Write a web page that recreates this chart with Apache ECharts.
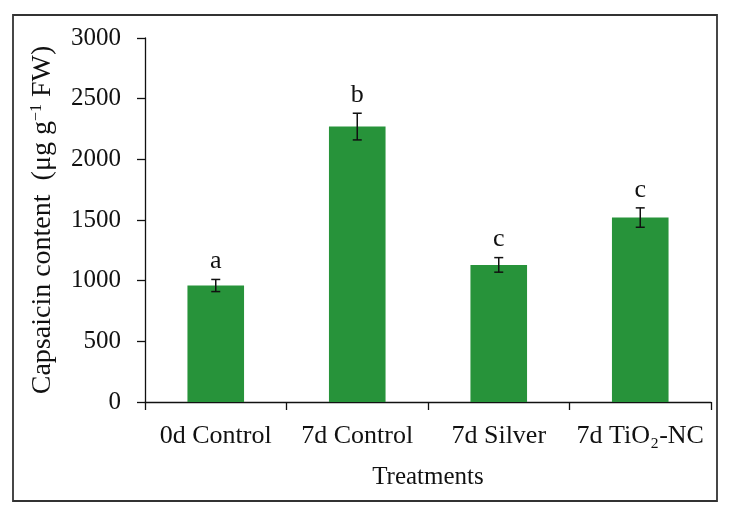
<!DOCTYPE html>
<html>
<head>
<meta charset="utf-8">
<script src="https://cdn.jsdelivr.net/npm/echarts@6/dist/echarts.min.js"></script>
<style>html,body{margin:0;padding:0;background:#fff}#c{width:734px;height:515px}</style>
</head>
<body>
<div id="c"></div>
<script>
var categories = ['0d Control', '7d Control', '7d Silver', '7d TiO₂-NC'];
var values = [960, 2270, 1130, 1520];
var errors = [50, 110, 60, 80];
var letters = ['a', 'b', 'c', 'c'];
var yTicks = [0, 500, 1000, 1500, 2000, 2500, 3000];

var FONT = '"Liberation Serif", "Times New Roman", serif';
var chart = echarts.init(document.getElementById('c'), null, {renderer: 'canvas'});

var errData = values.map(function (v, i) { return [i, v, errors[i]]; });

chart.setOption({
  animation: false,
  backgroundColor: '#fff',
  graphic: [{
    type: 'rect',
    shape: {x: 13, y: 15, width: 704, height: 486},
    style: {fill: 'none', stroke: '#333', lineWidth: 1.8},
    z: 100
  }],
  grid: {left: 145, right: 23, top: 38, bottom: 113},
  xAxis: {
    type: 'category',
    data: categories,
    name: 'Treatments',
    nameLocation: 'middle',
    nameGap: 63,
    nameTextStyle: {fontFamily: FONT, fontSize: 25, color: '#111'},
    axisLine: {lineStyle: {color: '#111', width: 1.3}},
    axisTick: {show: true, length: 8, lineStyle: {color: '#111', width: 1.3}},
    axisLabel: {fontFamily: FONT, fontSize: 26, color: '#111', margin: 21, interval: 0}
  },
  yAxis: {
    type: 'value',
    min: yTicks[0],
    max: yTicks[yTicks.length - 1],
    interval: 500,
    name: '{t|Capsaicin content  (μg g}{s|−1}{t| FW)}',
    nameLocation: 'middle',
    nameGap: 88,
    nameTextStyle: {
      rich: {
        t: {fontFamily: FONT, fontSize: 28, color: '#111'},
        s: {fontFamily: FONT, fontSize: 16, color: '#111', verticalAlign: 'top', padding: [0, 0, 12, 0]}
      }
    },
    splitLine: {show: false},
    axisLine: {show: true, lineStyle: {color: '#111', width: 1.3}},
    axisTick: {show: true, length: 8, lineStyle: {color: '#111', width: 1.3}},
    axisLabel: {fontFamily: FONT, fontSize: 25, color: '#111', margin: 24, formatter: function (v) { return String(v); }}
  },
  series: [{
    type: 'bar',
    data: values,
    barWidth: '40%',
    itemStyle: {color: '#27933a'}
  }, {
    type: 'custom',
    data: errData,
    z: 10,
    renderItem: function (params, api) {
      var i = api.value(0), v = api.value(1), e = api.value(2);
      var top = api.coord([i, v + e]);
      var bot = api.coord([i, v - e]);
      var hw = 4.5;
      return {
        type: 'group',
        children: [
          {type: 'line', shape: {x1: top[0], y1: top[1], x2: bot[0], y2: bot[1]}, style: {stroke: '#111', lineWidth: 1.5}},
          {type: 'line', shape: {x1: top[0] - hw, y1: top[1], x2: top[0] + hw, y2: top[1]}, style: {stroke: '#111', lineWidth: 1.5}},
          {type: 'line', shape: {x1: bot[0] - hw, y1: bot[1], x2: bot[0] + hw, y2: bot[1]}, style: {stroke: '#111', lineWidth: 1.5}},
          {type: 'text', style: {text: letters[params.dataIndex], x: top[0], y: top[1] - 5, textAlign: 'center', textVerticalAlign: 'bottom', font: '26px ' + FONT, fill: '#111'}}
        ]
      };
    }
  }]
});
</script>
</body>
</html>
